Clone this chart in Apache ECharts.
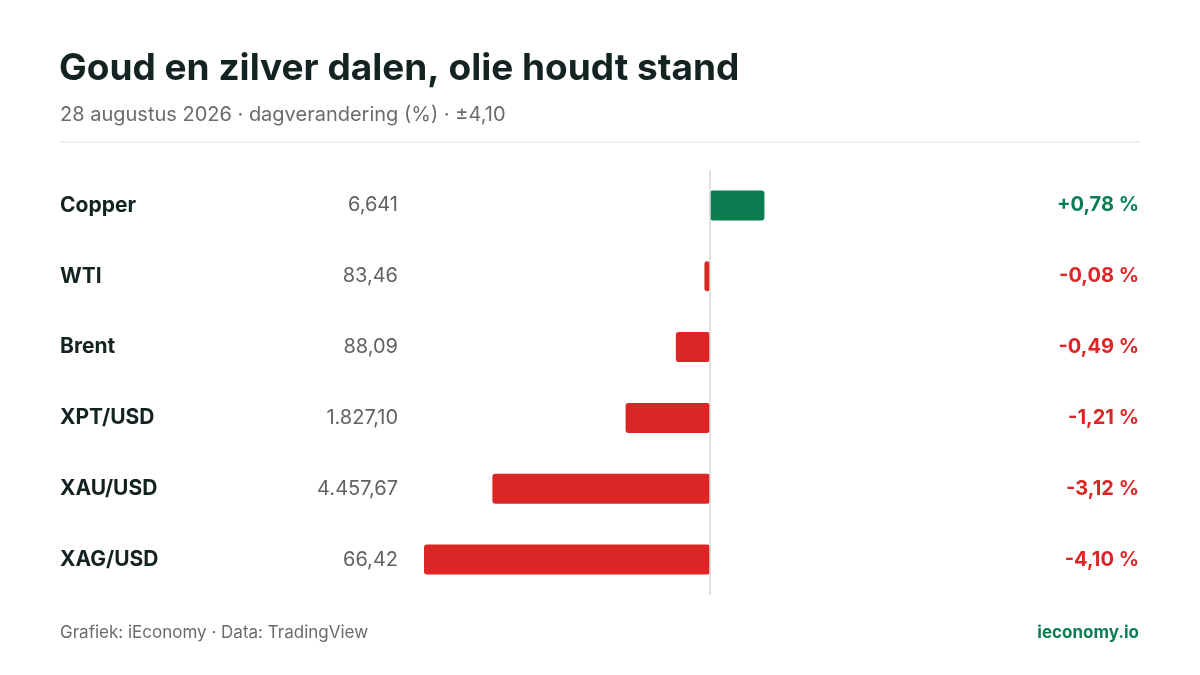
<!DOCTYPE html>
<html><head><meta charset="utf-8">
<script src="https://cdn.jsdelivr.net/npm/echarts@6/dist/echarts.min.js"></script>
<style>html,body{margin:0;padding:0;background:#fff}#c{width:1200px;height:675px}</style>
</head><body><div id="c"></div>
<script>
const categories = ['Copper','WTI','Brent','XPT/USD','XAU/USD','XAG/USD'];
const prices = ['6,641','83,46','88,09','1.827,10','4.457,67','66,42'];
const changes = [0.78,-0.08,-0.49,-1.21,-3.12,-4.10];
const GREEN='#0b7d50', RED='#dc2626', F='Inter, "Inter Variable", "Noto Sans", sans-serif';
const fmt = v => (v>0?'+':'') + v.toFixed(2).replace('.',',') + ' %';
const chart = echarts.init(document.getElementById('c'));
const yBase = {type:'category',data:categories,inverse:true,axisLine:{show:false},axisTick:{show:false},splitLine:{show:false}};
chart.setOption({
  animation:false,
  title:[{text:'Goud en zilver dalen, olie houdt stand',left:54,top:45,textStyle:{fontFamily:F,fontSize:37,fontWeight:'bold',color:'#132322'}},
         {text:'28 augustus 2026 · dagverandering (%) · ±4,10',left:55,top:100,textStyle:{fontFamily:F,fontSize:20,fontWeight:'normal',color:'#6b6b6b'}},
         {text:'Grafiek: iEconomy · Data: TradingView',left:55,top:619,textStyle:{fontFamily:F,fontSize:17,fontWeight:'normal',color:'#6b6b6b'}},
         {text:'ieconomy.io',right:56,top:619,textStyle:{fontFamily:F,fontSize:17,fontWeight:'bold',color:GREEN}}],
  graphic:[{type:'line',shape:{x1:60,y1:142,x2:1140,y2:142},style:{stroke:'#e0e0e0',lineWidth:1}}],
  grid:{left:424,right:204,top:170,bottom:80},
  xAxis:{type:'value',min:-4.1,max:4.1,show:false},
  yAxis:[
    Object.assign({},yBase,{position:'left',axisLabel:{align:'left',margin:364,fontFamily:F,fontSize:21,fontWeight:'bold',color:'#132322'}}),
    Object.assign({},yBase,{position:'left',axisLabel:{align:'right',margin:26,fontFamily:F,fontSize:20,color:'#5f6363',formatter:(v,i)=>prices[i]}}),
    Object.assign({},yBase,{position:'right',axisLabel:{align:'right',margin:143,fontFamily:F,fontSize:20,fontWeight:'bold',
      formatter:(v,i)=>'{'+(changes[i]>=0?'g':'r')+'|'+fmt(changes[i])+'}',rich:{g:{color:GREEN,fontFamily:F,fontSize:20,fontWeight:'bold'},r:{color:RED,fontFamily:F,fontSize:20,fontWeight:'bold'}}}})
  ],
  series:[{type:'bar',yAxisIndex:0,barWidth:30,
    data:changes.map(v=>({value:v,itemStyle:{color:v>=0?GREEN:RED,borderRadius:3}})),
    markLine:{silent:true,symbol:'none',label:{show:false},lineStyle:{color:'#d9d9d9',type:'solid',width:1.5},data:[{xAxis:0}]}
  }]
});
</script></body></html>
